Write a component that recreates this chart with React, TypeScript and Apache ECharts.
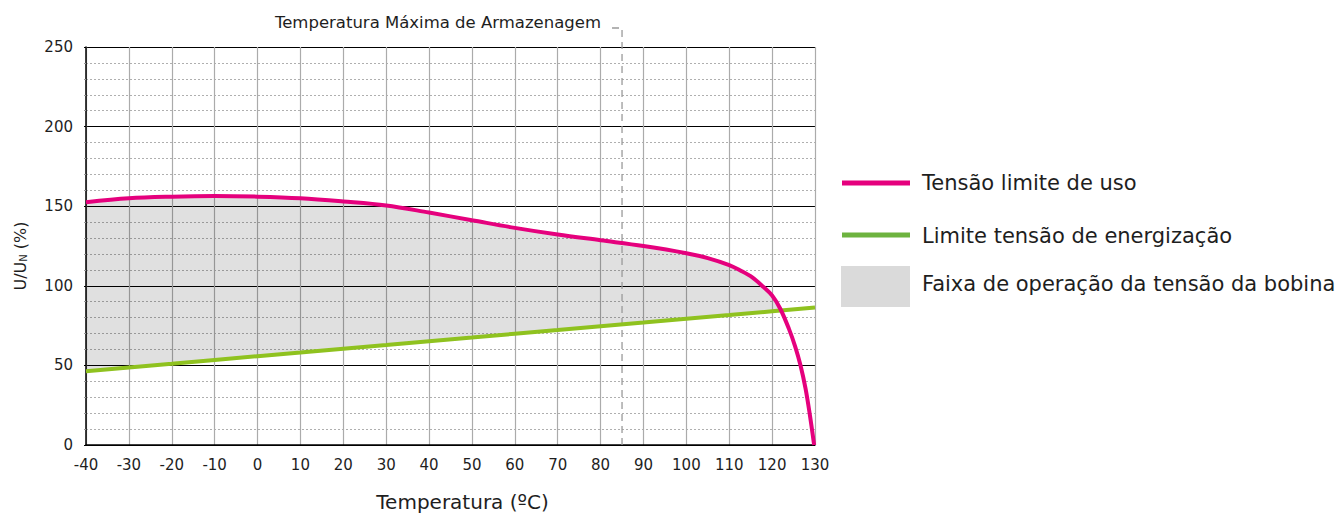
import React, { useEffect, useRef } from 'react';
import * as echarts from 'echarts';

// ---- data ----
const limitTemps = [-40, -30, -20, -10, 0, 10, 20, 30, 40, 50, 60, 70, 80, 90, 100, 105, 110, 112.6, 115.3, 118, 120, 121.9, 123.9, 125.4, 126.6, 127.8, 128.8, 129.8];
const limitValues = [152.5, 155, 156, 156.4, 156, 155, 153, 150.5, 146, 141.2, 136.4, 132.2, 128.6, 125, 120.5, 117.4, 113, 109.6, 105.4, 99.2, 93.9, 85.6, 73.1, 61.7, 50.2, 35.4, 18.9, 0];

const energTemps = [-40, -30, -20, -10, 0, 10, 20, 30, 40, 50, 60, 70, 80, 90, 100, 110, 120, 130];
const energValues = [46.3, 48.7, 51.0, 53.4, 55.8, 58.1, 60.5, 62.8, 65.2, 67.5, 69.9, 72.2, 74.6, 76.9, 79.3, 81.6, 84.0, 86.3];

const storageTemp = 85;
const storageLabel = 'Temperatura Máxima de Armazenagem';

const xMin = -40;
const xMax = 130;
const xStep = 10;
const yMin = 0;
const yMax = 250;
const yStep = 50;

const seriesNames = ['Tensão limite de uso', 'Limite tensão de energização', 'Faixa de operação da tensão da bobina'];
const xAxisTitle = 'Temperatura (ºC)';

// ---- styles ----
const FONT = 'DejaVu Sans';
const TEXT = '#1e1e1e';
const MAGENTA = '#e5007d';
const GREEN = '#8fc21f';
const GREEN_LEGEND = '#6db33f';
const BAND = 'rgba(0,0,0,0.12)';
const BAND_LEGEND = '#dadada';

function energAt(t: number): number {
  for (let i = 0; i < energTemps.length - 1; i++) {
    if (t >= energTemps[i] && t <= energTemps[i + 1]) {
      const f = (t - energTemps[i]) / (energTemps[i + 1] - energTemps[i]);
      return energValues[i] + f * (energValues[i + 1] - energValues[i]);
    }
  }
  return energValues[energValues.length - 1];
}

function bandPolygon(): number[][] {
  const upper: number[][] = [];
  let cross: number[] | null = null;
  for (let i = 0; i < limitTemps.length; i++) {
    const t = limitTemps[i];
    const d = limitValues[i] - energAt(t);
    if (d >= 0) {
      upper.push([t, limitValues[i]]);
    } else {
      const tp = limitTemps[i - 1];
      const dp = limitValues[i - 1] - energAt(tp);
      const f = dp / (dp - d);
      const tc = tp + f * (t - tp);
      cross = [tc, energAt(tc)];
      break;
    }
  }
  const pts = upper.slice();
  if (cross) pts.push(cross);
  const endT = cross ? cross[0] : limitTemps[limitTemps.length - 1];
  for (let i = energTemps.length - 1; i >= 0; i--) {
    if (energTemps[i] < endT) pts.push([energTemps[i], energValues[i]]);
  }
  return pts;
}

const bandPts = bandPolygon();

export default function App() {
  const ref = useRef<HTMLDivElement>(null);
  useEffect(() => {
    document.body.style.margin = '0';
    const chart = echarts.init(ref.current!, undefined, { renderer: 'svg' });
    const option: any = {
      animation: false,
      grid: { left: 86, right: 526, top: 47, bottom: 70, containLabel: false },
      xAxis: {
        type: 'value',
        min: xMin,
        max: xMax,
        interval: xStep,
        name: xAxisTitle,
        nameLocation: 'middle',
        nameGap: 47,
        nameTextStyle: { fontFamily: FONT, fontSize: 20, color: TEXT, padding: [0, 0, 0, 24] },
        axisLine: { show: true, onZero: false, lineStyle: { color: '#000', width: 1.5 } },
        axisTick: { show: false },
        axisLabel: { fontFamily: FONT, fontSize: 15, color: TEXT, margin: 12 },
        splitLine: { show: true, lineStyle: { color: '#ababab', width: 1.2 } },
      },
      yAxis: {
        type: 'value',
        min: yMin,
        max: yMax,
        interval: yStep,
        name: 'U/U{n|N} (%)',
        nameLocation: 'middle',
        nameGap: 58,
        nameTextStyle: {
          fontFamily: FONT,
          fontSize: 16,
          color: TEXT,
          padding: [0, 20, 0, 0],
          rich: { n: { fontFamily: FONT, fontSize: 10, color: TEXT, verticalAlign: 'bottom', lineHeight: 10 } },
        },
        axisLine: { show: true, onZero: false, lineStyle: { color: '#000', width: 1.5 } },
        axisTick: { show: true, length: 2, lineStyle: { color: '#000' } },
        minorTick: { show: true, splitNumber: 5, length: 2, lineStyle: { color: '#999' } },
        axisLabel: { fontFamily: FONT, fontSize: 15, color: TEXT, margin: 13 },
        splitLine: { show: true, lineStyle: { color: '#000', width: 1.2 } },
        minorSplitLine: { show: true, lineStyle: { color: '#9a9a9a', width: 0.8, type: [2, 2] } },
      },
      series: [
        {
          name: seriesNames[2],
          type: 'custom',
          silent: true,
          z: 1,
          data: [[xMin, yMin]],
          renderItem: (_params: any, api: any) => ({
            type: 'polygon',
            shape: { points: bandPts.map((p) => api.coord(p)) },
            style: { fill: BAND },
          }),
        },
        {
          name: 'storage',
          type: 'custom',
          silent: true,
          z: 2,
          clip: false,
          data: [[storageTemp, yMax]],
          renderItem: (_params: any, api: any) => {
            const bottom = api.coord([api.value(0), yMin]);
            const top = api.coord([api.value(0), api.value(1)]);
            const yTop = top[1] - 19;
            return {
              type: 'group',
              children: [
                {
                  type: 'polyline',
                  shape: { points: [[bottom[0], bottom[1]], [top[0], yTop], [top[0] - 15, yTop]] },
                  style: { stroke: '#9a9a9a', lineWidth: 1.3, lineDash: [7, 5], fill: null },
                },
                {
                  type: 'text',
                  x: top[0] - 21,
                  y: yTop - 6,
                  style: {
                    text: storageLabel,
                    fontFamily: FONT,
                    fontSize: 16.5,
                    fill: TEXT,
                    align: 'right',
                    verticalAlign: 'middle',
                  },
                },
              ],
            };
          },
        },
        {
          name: seriesNames[1],
          type: 'line',
          z: 3,
          showSymbol: false,
          data: energTemps.map((t, i) => [t, energValues[i]]),
          lineStyle: { color: GREEN, width: 4 },
          itemStyle: { color: GREEN },
        },
        {
          name: seriesNames[0],
          type: 'line',
          z: 4,
          showSymbol: false,
          smooth: 0.35,
          data: limitTemps.map((t, i) => [t, limitValues[i]]),
          lineStyle: { color: MAGENTA, width: 4 },
          itemStyle: { color: MAGENTA },
        },
      ],
      graphic: [
        { type: 'line', shape: { x1: 842, y1: 183, x2: 910, y2: 183 }, style: { stroke: MAGENTA, lineWidth: 5 } },
        { type: 'text', x: 922, y: 183, style: { text: seriesNames[0], fontFamily: FONT, fontSize: 21, fill: TEXT, verticalAlign: 'middle' } },
        { type: 'line', shape: { x1: 842, y1: 235, x2: 910, y2: 235 }, style: { stroke: GREEN_LEGEND, lineWidth: 5 } },
        { type: 'text', x: 922, y: 236, style: { text: seriesNames[1], fontFamily: FONT, fontSize: 21, fill: TEXT, verticalAlign: 'middle' } },
        { type: 'rect', shape: { x: 841, y: 266, width: 69, height: 41 }, style: { fill: BAND_LEGEND } },
        { type: 'text', x: 922, y: 284, style: { text: seriesNames[2], fontFamily: FONT, fontSize: 21, fill: TEXT, verticalAlign: 'middle' } },
      ],
    };
    chart.setOption(option);
    return () => chart.dispose();
  }, []);
  return <div ref={ref} style={{ width: 1341, height: 517 }} />;
}
